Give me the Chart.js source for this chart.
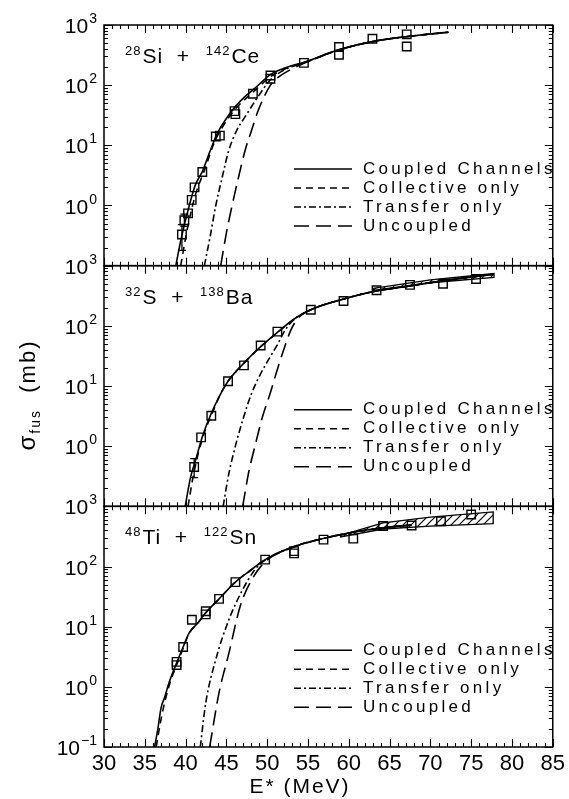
<!DOCTYPE html>
<html>
<head>
    <title>Fusion cross sections</title>
    <script src="https://cdn.jsdelivr.net/npm/chart.js"></script>
    <style>
        body { margin: 0; background: #fff; }
    </style>
</head>
<body>

    <canvas id="chart" width="569" height="799"></canvas>

    <script>
        // ---- data: E* (MeV) vs sigma_fus (mb) ----
        var panelNames = [["28", "Si", "142", "Ce"], ["32", "S", "138", "Ba"], ["48", "Ti", "122", "Sn"]];
        var legendNames = ["Coupled Channels", "Collective only", "Transfer only", "Uncoupled"];
        var yTickExp = ["3", "2", "1", "0", "\u22121"];
        var yTickVal = [1000, 100, 10, 1, 0.1];

        // 28Si + 142Ce
        var siE = [39.55, 39.85, 40.3, 40.75, 41.1, 42.05, 43.7, 44.2, 46.0, 46.1, 48.25, 50.4, 50.4, 54.5, 58.8, 58.8, 62.9, 67.1, 67.1];
        var siS = [0.33, 0.57, 0.74, 1.24, 2.0, 3.6, 14, 14.5, 37, 33, 72, 145, 128, 235, 430, 320, 590, 700, 440];
        var siErr = [[39.55, 0.18, 0.48], [39.85, 0.45, 0.72]];
        var siCC = [[38.8, 0.1], [39.5, 0.3], [40.45, 1.0], [41.2, 2.2], [42.06, 3.7], [43.0, 8], [43.9, 16], [45.0, 28], [46.1, 44], [47.3, 65], [48.5, 89], [50.4, 150], [52.5, 200], [54.5, 240], [58.8, 390], [63.2, 540], [67.5, 650], [72.2, 760]];
        var siCol = [[39.4, 0.1], [40.2, 0.4], [41.2, 1.5], [42.3, 3.8], [43.5, 11], [44.5, 20], [46.1, 40], [48.5, 82], [50.4, 138], [52.5, 195], [54.5, 235], [58.8, 385], [63.2, 540], [67.5, 650], [72.2, 760]];
        var siTr = [[42.3, 0.1], [43.0, 0.3], [43.7, 1.0], [44.5, 3], [45.3, 8.3], [46.3, 18], [47.3, 30], [48.9, 65], [50.4, 123], [52.5, 190], [54.5, 235], [58.8, 385], [63.2, 540], [67.5, 650], [72.2, 760]];
        var siUn = [[44.3, 0.1], [45.0, 0.35], [45.7, 1.0], [46.5, 3], [47.3, 8.3], [48.1, 18], [48.9, 38], [50.4, 100], [51.5, 140], [53.0, 185], [54.5, 232], [58.8, 385], [63.2, 540], [67.5, 650], [72.2, 760]];

        // 32S + 138Ba
        var sE = [41.05, 41.9, 43.15, 45.2, 47.15, 49.2, 51.25, 55.35, 59.36, 63.4, 67.5, 71.55, 75.6];
        var sS = [0.45, 1.4, 3.2, 12, 22, 47, 80, 185, 258, 390, 480, 500, 600];
        var sErr = [[41.05, 0.3, 0.62]];
        var sCC = [[39.95, 0.1], [40.6, 0.3], [41.25, 0.6], [42.1, 1.5], [43.1, 3.4], [44.2, 7], [45.2, 12], [47.15, 24], [49.2, 45], [51.25, 78], [53.3, 130], [55.3, 185], [59.4, 280], [63.4, 380], [67.5, 460], [71.5, 560], [77.7, 720]];
        var sCol = [[40.3, 0.1], [40.9, 0.3], [41.6, 0.8], [42.5, 2.0], [43.3, 3.6], [44.2, 7], [45.2, 12], [47.15, 24], [49.2, 45], [51.25, 77], [53.3, 128], [55.3, 183], [59.4, 280], [63.4, 380], [67.5, 460], [71.5, 560], [77.7, 720]];
        var sTr = [[44.6, 0.1], [45.3, 0.35], [46.1, 1.0], [47.1, 3], [48.1, 7.6], [49.2, 16], [50.4, 31], [51.3, 50], [52.2, 85], [53.3, 128], [55.3, 183], [59.4, 280], [63.4, 380], [67.5, 460], [71.5, 560], [77.7, 720]];
        var sUn = [[47.0, 0.1], [47.7, 0.35], [48.5, 1.0], [49.4, 3], [50.4, 7.8], [51.3, 20], [52.2, 47], [52.9, 85], [53.8, 135], [55.3, 183], [59.4, 280], [63.4, 380], [67.5, 460], [71.5, 560], [77.7, 720]];
        var sBandUp = [[63, 420], [70, 580], [77.8, 740]];
        var sBandLo = [[63, 390], [70, 520], [77.8, 640]];

        // 48Ti + 122Sn
        var tE = [38.9, 38.9, 39.7, 40.77, 42.47, 42.47, 44.1, 46.1, 49.75, 53.3, 53.3, 56.9, 60.55, 64.2, 67.7, 71.3, 75.0];
        var tS = [2.3, 2.6, 4.6, 13, 18, 16, 29, 55, 130, 165, 180, 280, 290, 470, 480, 565, 730];
        var tCC = [[36.2, 0.1], [36.6, 0.2], [37.0, 0.45], [37.4, 0.65], [38.0, 1.2], [38.9, 2.5], [39.7, 4.6], [40.44, 7.9], [41.5, 11.5], [42.47, 17], [44.1, 29], [46.1, 55], [47.9, 85], [49.75, 130], [53.3, 216], [57.0, 295], [60.5, 370], [64.2, 440], [67.7, 490]];
        var tCol = [[36.4, 0.1], [36.9, 0.25], [37.5, 0.6], [38.2, 1.3], [38.9, 2.3], [39.7, 4.4], [40.44, 7.8], [41.5, 11.5], [42.47, 17], [44.1, 29], [46.1, 55], [47.9, 85], [49.75, 130], [53.3, 216], [57.0, 295], [60.5, 370], [64.2, 440], [67.7, 490]];
        var tTr = [[41.8, 0.1], [42.47, 0.54], [43.7, 2.85], [45.3, 13], [46.9, 39], [48.5, 89], [49.75, 128], [53.3, 215], [57.0, 295], [60.5, 370], [64.2, 440], [67.7, 490]];
        var tUn = [[42.95, 0.1], [44.1, 0.8], [45.3, 3.6], [46.7, 22], [48.1, 60], [49.75, 120], [53.3, 210], [57.0, 295], [60.5, 370], [64.2, 440], [67.7, 490]];
        var tBandUp = [[59, 330], [64.2, 530], [70, 660], [77.7, 810]];
        var tBandLo = [[59, 310], [64.2, 420], [70, 470], [77.7, 515]];

        // line styles: solid, collective, transfer, uncoupled
        var dashes = [[], [7, 5], [7, 3, 2, 3], [15, 7]];
        var FONT = '"Liberation Sans", Arial, sans-serif';

        var canvas = document.getElementById("chart");
        var ctx0 = canvas.getContext("2d");

        // hatch pattern for the bands
        var pc = document.createElement("canvas");
        pc.width = 8; pc.height = 8;
        var pctx = pc.getContext("2d");
        pctx.strokeStyle = "#000";
        pctx.lineWidth = 1.2;
        pctx.beginPath();
        pctx.moveTo(0, 8); pctx.lineTo(8, 0);
        pctx.moveTo(-2, 2); pctx.lineTo(2, -2);
        pctx.moveTo(6, 10); pctx.lineTo(10, 6);
        pctx.stroke();
        var hatch = ctx0.createPattern(pc, "repeat");

        function xy(pairs) {
            return pairs.map(function (p) { return { x: p[0], y: p[1] }; });
        }

        function curve(pairs, axis, k) {
            return {
                data: xy(pairs),
                yAxisID: axis,
                borderColor: "#000",
                borderWidth: 1.6,
                borderDash: dashes[k],
                pointRadius: 0,
                fill: false,
                cubicInterpolationMode: "monotone"
            };
        }

        function squares(E, S, axis) {
            return {
                data: E.map(function (e, i) { return { x: e, y: S[i] }; }),
                yAxisID: axis,
                showLine: false,
                pointStyle: "rect",
                pointRadius: 6,
                pointBorderWidth: 1.4,
                pointBorderColor: "#000",
                pointBackgroundColor: "rgba(0,0,0,0)"
            };
        }

        function band(up, lo, axis) {
            var poly = up.concat(lo.slice().reverse());
            poly.push(up[0]);
            return {
                data: xy(poly),
                yAxisID: axis,
                borderColor: "#000",
                borderWidth: 1.3,
                pointRadius: 0,
                tension: 0,
                fill: "shape",
                backgroundColor: hatch
            };
        }

        var datasets = [
            band(sBandUp, sBandLo, "yM"),
            band(tBandUp, tBandLo, "yB"),
            curve(siCC, "yT", 0), curve(siCol, "yT", 1), curve(siTr, "yT", 2), curve(siUn, "yT", 3),
            curve(sCC, "yM", 0), curve(sCol, "yM", 1), curve(sTr, "yM", 2), curve(sUn, "yM", 3),
            curve(tCC, "yB", 0), curve(tCol, "yB", 1), curve(tTr, "yB", 2), curve(tUn, "yB", 3),
            squares(siE, siS, "yT"),
            squares(sE, sS, "yM"),
            squares(tE, tS, "yB")
        ];

        function logAxis() {
            return {
                type: "logarithmic",
                min: 0.1,
                max: 1000,
                stack: "panels",
                stackWeight: 1,
                position: "left",
                offset: false,
                ticks: { display: false },
                grid: { display: false, drawTicks: false },
                border: { display: false },
                afterFit: function (s) { s.width = 104; }
            };
        }

        // draws "10" with a raised exponent, right aligned at xr
        function powLabel(ctx, exp, xr, y) {
            ctx.font = "21px " + FONT;
            var wb = ctx.measureText("10").width;
            ctx.font = "14px " + FONT;
            var we = ctx.measureText(exp).width;
            var x0 = xr - we - wb - 1;
            ctx.textAlign = "left";
            ctx.textBaseline = "alphabetic";
            ctx.font = "21px " + FONT;
            ctx.fillText("10", x0, y + 8);
            ctx.font = "14px " + FONT;
            ctx.fillText(exp, x0 + wb + 1, y - 2);
        }

        var decor = {
            id: "decor",
            afterDraw: function (chart) {
                var ctx = chart.ctx;
                var xs = chart.scales.x;
                var panels = [chart.scales.yT, chart.scales.yM, chart.scales.yB];
                var errs = [siErr, sErr, []];
                ctx.save();
                ctx.strokeStyle = "#000";
                ctx.fillStyle = "#000";

                panels.forEach(function (ys, p) {
                    ctx.setLineDash([]);
                    ctx.lineWidth = 1.5;
                    ctx.strokeRect(xs.left, ys.top, xs.right - xs.left, ys.bottom - ys.top);

                    // log ticks on left and right edges
                    ctx.lineWidth = 1.1;
                    ctx.beginPath();
                    for (var d = -1; d <= 3; d++) {
                        for (var m = 1; m <= 9; m++) {
                            var v = m * Math.pow(10, d);
                            if (v > 1000.01) break;
                            var py = Math.round(ys.getPixelForValue(v)) + 0.5;
                            var len = m === 1 ? 8 : 4;
                            ctx.moveTo(xs.left, py); ctx.lineTo(xs.left + len, py);
                            ctx.moveTo(xs.right, py); ctx.lineTo(xs.right - len, py);
                        }
                    }
                    // energy ticks on top and bottom edges
                    for (var e = 30; e <= 85; e++) {
                        var px = Math.round(xs.getPixelForValue(e)) + 0.5;
                        var l = e % 5 === 0 ? 8 : 4;
                        ctx.moveTo(px, ys.top); ctx.lineTo(px, ys.top + l);
                        ctx.moveTo(px, ys.bottom); ctx.lineTo(px, ys.bottom - l);
                    }
                    ctx.stroke();

                    // error bars
                    ctx.lineWidth = 1.3;
                    errs[p].forEach(function (r) {
                        var ex = xs.getPixelForValue(r[0]);
                        var y1 = ys.getPixelForValue(r[1]);
                        var y2 = ys.getPixelForValue(r[2]);
                        ctx.beginPath();
                        ctx.moveTo(ex, y1); ctx.lineTo(ex, y2);
                        ctx.moveTo(ex - 4, y1); ctx.lineTo(ex + 4, y1);
                        ctx.moveTo(ex - 4, y2); ctx.lineTo(ex + 4, y2);
                        ctx.stroke();
                    });

                    // tick labels: powers of ten
                    for (var i = 0; i < yTickVal.length; i++) {
                        if (i === 4 && p < 2) continue;
                        powLabel(ctx, yTickExp[i], 97, ys.getPixelForValue(yTickVal[i]));
                    }

                    // reaction label
                    var nm = panelNames[p];
                    var x = xs.left + 21;
                    var by = ys.top + 38;
                    ctx.letterSpacing = "1px";
                    ctx.textAlign = "left";
                    ctx.textBaseline = "alphabetic";
                    ctx.font = "13px " + FONT;
                    ctx.fillText(nm[0], x, by - 8);
                    x += ctx.measureText(nm[0]).width + 1;
                    ctx.font = "21px " + FONT;
                    ctx.fillText(nm[1] + "  +  ", x, by);
                    x += ctx.measureText(nm[1] + "  +  ").width + 2;
                    ctx.font = "13px " + FONT;
                    ctx.fillText(nm[2], x, by - 8);
                    x += ctx.measureText(nm[2]).width + 1;
                    ctx.font = "21px " + FONT;
                    ctx.fillText(nm[3], x, by);

                    // legend
                    ctx.letterSpacing = "3.3px";
                    ctx.font = "17px " + FONT;
                    ctx.textBaseline = "middle";
                    for (var k = 0; k < 4; k++) {
                        var ly = ys.top + 144 + 19 * k;
                        ctx.lineWidth = 1.5;
                        ctx.setLineDash(dashes[k]);
                        ctx.beginPath();
                        ctx.moveTo(xs.left + 190, ly);
                        ctx.lineTo(xs.left + 248, ly);
                        ctx.stroke();
                        ctx.setLineDash([]);
                        ctx.fillText(legendNames[k], xs.left + 259, ly);
                    }
                    ctx.letterSpacing = "0px";
                });

                // x axis title
                ctx.textAlign = "center";
                ctx.textBaseline = "alphabetic";
                ctx.letterSpacing = "2px";
                ctx.font = "21px " + FONT;
                ctx.fillText("E* (MeV)", 300, 793);

                // y axis title: sigma_fus (mb)
                ctx.save();
                ctx.translate(27, 395);
                ctx.rotate(-Math.PI / 2);
                ctx.textBaseline = "alphabetic";
                ctx.textAlign = "left";
                ctx.letterSpacing = "2px";
                ctx.font = "24px " + FONT;
                var w1 = ctx.measureText("\u03c3").width;
                ctx.font = "14px " + FONT;
                var w2 = ctx.measureText("fus").width;
                ctx.font = "22px " + FONT;
                var w3 = ctx.measureText("  (mb)").width;
                var x0 = -(w1 + w2 + w3) / 2;
                ctx.font = "24px " + FONT;
                ctx.fillText("\u03c3", x0, 8);
                ctx.font = "14px " + FONT;
                ctx.fillText("fus", x0 + w1, 13);
                ctx.font = "22px " + FONT;
                ctx.fillText("  (mb)", x0 + w1 + w2, 8);
                ctx.restore();

                ctx.restore();
            }
        };

        var chart = new Chart(canvas, {
            type: "line",
            data: { datasets: datasets },
            options: {
                responsive: false,
                animation: false,
                devicePixelRatio: 1,
                layout: { padding: { left: 0, right: 12, top: 25, bottom: 0 } },
                plugins: { legend: { display: false }, tooltip: { enabled: false } },
                scales: {
                    x: {
                        type: "linear",
                        min: 30,
                        max: 85,
                        ticks: { stepSize: 5, color: "#000", padding: 4, font: { family: FONT, size: 22 } },
                        grid: { display: false, drawTicks: false },
                        border: { display: false },
                        afterFit: function (s) { s.height = 52; }
                    },
                    // stacked panels: the last one listed ends up on top
                    yB: logAxis(),
                    yM: logAxis(),
                    yT: logAxis()
                }
            },
            plugins: [decor]
        });
    </script>

</body>
</html>
